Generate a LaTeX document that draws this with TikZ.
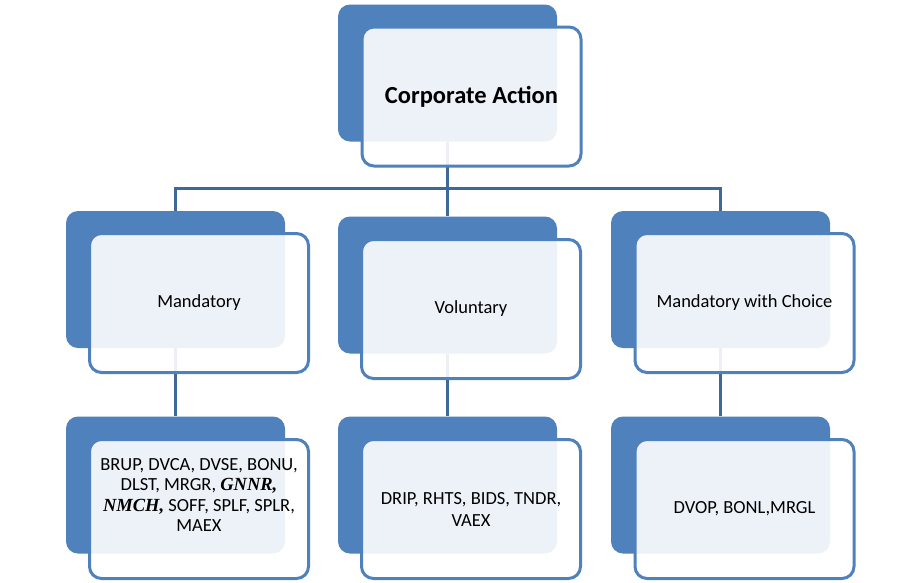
\documentclass[tikz,border=0pt]{standalone}
\usepackage{fontspec}
\setmainfont{Carlito}
\newfontfamily\tms{Liberation Serif}
\definecolor{boxblue}{HTML}{4F81BD}
\definecolor{linkblue}{HTML}{3F679A}
\begin{document}
\begin{tikzpicture}[x=1pt,y=-1pt,
  back/.style={rectangle,rounded corners=12pt,fill=boxblue,minimum width=219pt,minimum height=137pt},
  front/.style={rectangle,rounded corners=12pt,draw=boxblue,line width=3pt,fill=white,fill opacity=0.9,text opacity=1,minimum width=219pt,minimum height=139pt,font=\fontsize{18.5}{22}\selectfont,align=center},
  link/.style={draw=linkblue,line width=3pt}]
\fill[white] (0,0) rectangle (920,582);
\useasboundingbox (0,0) rectangle (920,582);
\node [back] (actbg) at (447.5,73) {};
\node [back] (mandbg) at (175.5,279.5) {};
\node [back] (volbg) at (447.5,285) {};
\node [back] (mwcbg) at (720.5,279.5) {};
\node [back] (mandcodesbg) at (175.5,485) {};
\node [back] (volcodesbg) at (447.5,485) {};
\node [back] (mwccodesbg) at (720.5,485) {};
\coordinate (bus) at (447.5,188);
\draw [link] (actbg.south) -- (bus);
\draw [link] (mandbg.north) |- (bus) -| (mwcbg.north);
\draw [link] (volbg.north) -- (bus);
\draw [link] (mandbg.south) -- (mandcodesbg.north);
\draw [link] (volbg.south) -- (volcodesbg.north);
\draw [link] (mwcbg.south) -- (mwccodesbg.north);
\node [front,font=\fontsize{24.5}{28}\selectfont\bfseries] (act) at (471.5,96.5) {Corporate Action};
\node [front] (mand) at (199,303) {Mandatory};
\node [front] (vol) at (471,309) {Voluntary};
\node [front] (mwc) at (744.5,303) {Mandatory with Choice};
\node [front] (mandcodes) at (199,509) {};
\node [align=center,font=\fontsize{18.5}{20.5}\selectfont] (mandlist) at ([yshift=14pt]mandcodes.center)
  {BRUP, DVCA, DVSE, BONU,\\ DLST, MRGR, {\tms\bfseries\itshape GNNR,}\\ {\tms\bfseries\itshape NMCH,} SOFF, SPLF, SPLR,\\ MAEX};
\node [front] (volcodes) at (471,509) {DRIP, RHTS, BIDS, TNDR,\\ VAEX};
\node [front] (mwccodes) at (744.5,509) {DVOP, BONL,MRGL};
\end{tikzpicture}
\end{document}
